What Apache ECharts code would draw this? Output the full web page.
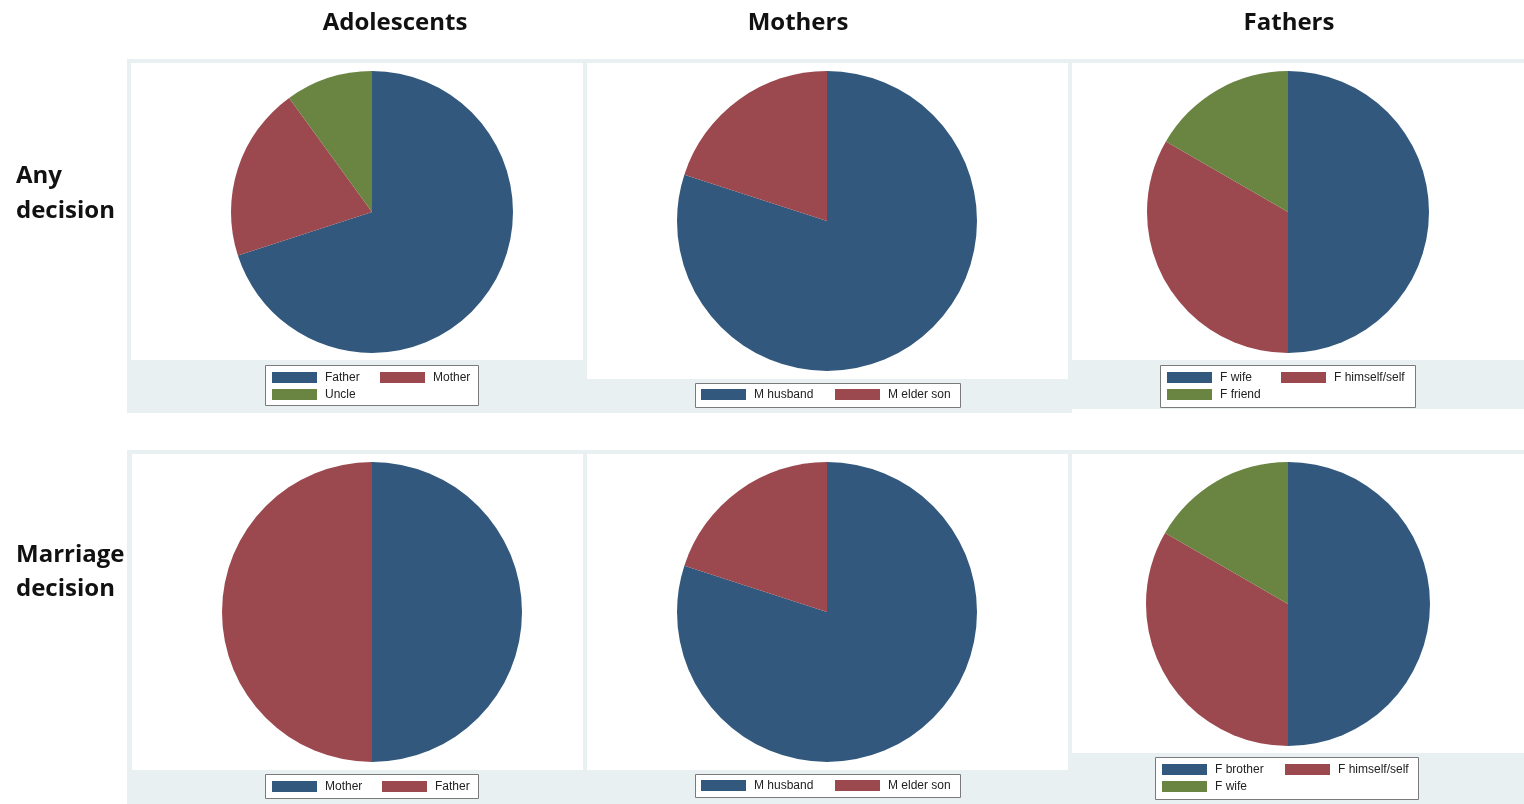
<!DOCTYPE html>
<html><head><meta charset="utf-8">
<script src="https://cdn.jsdelivr.net/npm/echarts@6/dist/echarts.min.js"></script>
<style>html,body{margin:0;padding:0;background:#fff}#c{width:1524px;height:804px}</style>
</head><body><div id="c"></div>
<script>
// ---- data ----
const columnTitles = ['Adolescents', 'Mothers', 'Fathers'];
const rowTitles = [['Any', 'decision'], ['Marriage', 'decision']];

const adolAnyNames = ['Father', 'Mother', 'Uncle'];
const adolAnyValues = [70, 20, 10];
const motherAnyNames = ['M husband', 'M elder son'];
const motherAnyValues = [80, 20];
const fatherAnyNames = ['F wife', 'F himself/self', 'F friend'];
const fatherAnyValues = [3, 2, 1];

const adolMarNames = ['Mother', 'Father'];
const adolMarValues = [50, 50];
const motherMarNames = ['M husband', 'M elder son'];
const motherMarValues = [80, 20];
const fatherMarNames = ['F brother', 'F himself/self', 'F wife'];
const fatherMarValues = [3, 2, 1];

// ---- styling / layout ----
const palette = ['#33587d', '#9b484e', '#6a8442'];
const panelBg = '#e9f0f2';
const font = 'Liberation Sans, Arial, sans-serif';

const panels = [
  {names: adolAnyNames, values: adolAnyValues, bg: [127, 59, 456, 354], plot: [131, 63, 452, 297], center: [372, 212], r: 141,
   box: [265, 365, 213, 40], col1: [272, 371], col2: [380, 371]},
  {names: motherAnyNames, values: motherAnyValues, bg: [583, 59, 489, 354], plot: [587, 63, 481, 316], center: [827, 221], r: 150,
   box: [695, 383, 265, 24], col1: [701, 388], col2: [835, 388]},
  {names: fatherAnyNames, values: fatherAnyValues, bg: [1072, 59, 452, 350], plot: [1072, 63, 452, 297], center: [1288, 212], r: 141,
   box: [1160, 365, 255, 42], col1: [1167, 371], col2: [1281, 371]},
  {names: adolMarNames, values: adolMarValues, bg: [127, 450, 456, 354], plot: [132, 454, 451, 316], center: [372, 612], r: 150,
   box: [265, 774, 213, 24], col1: [272, 780], col2: [382, 780]},
  {names: motherMarNames, values: motherMarValues, bg: [583, 450, 489, 354], plot: [587, 454, 481, 316], center: [827, 612], r: 150,
   box: [695, 774, 265, 23], col1: [701, 779], col2: [835, 779]},
  {names: fatherMarNames, values: fatherMarValues, bg: [1072, 450, 452, 354], plot: [1072, 454, 452, 299], center: [1288, 604], r: 142,
   box: [1155, 757, 263, 42], col1: [1162, 763], col2: [1285, 763]}
];

const graphics = [];
const series = [];
const legends = [];

panels.forEach((p, i) => {
  graphics.push({type: 'rect', z: 0, shape: {x: p.bg[0], y: p.bg[1], width: p.bg[2], height: p.bg[3]}, style: {fill: panelBg}});
  graphics.push({type: 'rect', z: 1, shape: {x: p.plot[0], y: p.plot[1], width: p.plot[2], height: p.plot[3]}, style: {fill: '#ffffff'}});
  graphics.push({type: 'rect', z: 1, shape: {x: p.box[0] + 0.5, y: p.box[1] + 0.5, width: p.box[2], height: p.box[3]}, style: {fill: '#ffffff', stroke: '#7a7a7a', lineWidth: 1}});

  series.push({
    type: 'pie',
    center: p.center,
    radius: [0, p.r],
    startAngle: 90,
    clockwise: true,
    silent: true,
    animation: false,
    label: {show: false},
    labelLine: {show: false},
    itemStyle: {borderWidth: 0},
    data: p.names.map((n, k) => ({name: n, value: p.values[k], itemStyle: {color: palette[k]}}))
  });

  const mk = (idxs, pos) => ({
    orient: 'vertical',
    left: pos[0],
    top: pos[1],
    padding: 0,
    itemWidth: 45,
    itemHeight: 11,
    itemGap: 4,
    selectedMode: false,
    icon: 'rect',
    textStyle: {fontFamily: font, fontSize: 12, color: '#222', lineHeight: 13, padding: [0, 0, 0, 3]},
    data: idxs.filter(k => k < p.names.length).map(k => ({name: p.names[k], icon: 'rect', itemStyle: {color: palette[k], borderWidth: 0}}))
  });
  legends.push(mk([0, 2], p.col1));
  legends.push(mk([1], p.col2));
});

const colX = [395, 798, 1289];
columnTitles.forEach((t, i) => {
  graphics.push({type: 'text', z: 2, x: colX[i], y: 23, style: {text: t, font: 'bold 24px "Open Sans", sans-serif', fill: '#111', textAlign: 'center', textVerticalAlign: 'middle'}});
});
const rowY = [[176, 211], [555, 589]];
rowTitles.forEach((lines, r) => {
  lines.forEach((t, j) => {
    graphics.push({type: 'text', z: 2, x: 16, y: rowY[r][j], style: {text: t, font: 'bold 24px "Open Sans", sans-serif', fill: '#111', textAlign: 'left', textVerticalAlign: 'middle'}});
  });
});

const chart = echarts.init(document.getElementById('c'), null, {renderer: 'canvas'});
chart.setOption({
  backgroundColor: '#ffffff',
  animation: false,
  graphic: {elements: graphics},
  legend: legends,
  series: series
});
</script>
</body></html>
